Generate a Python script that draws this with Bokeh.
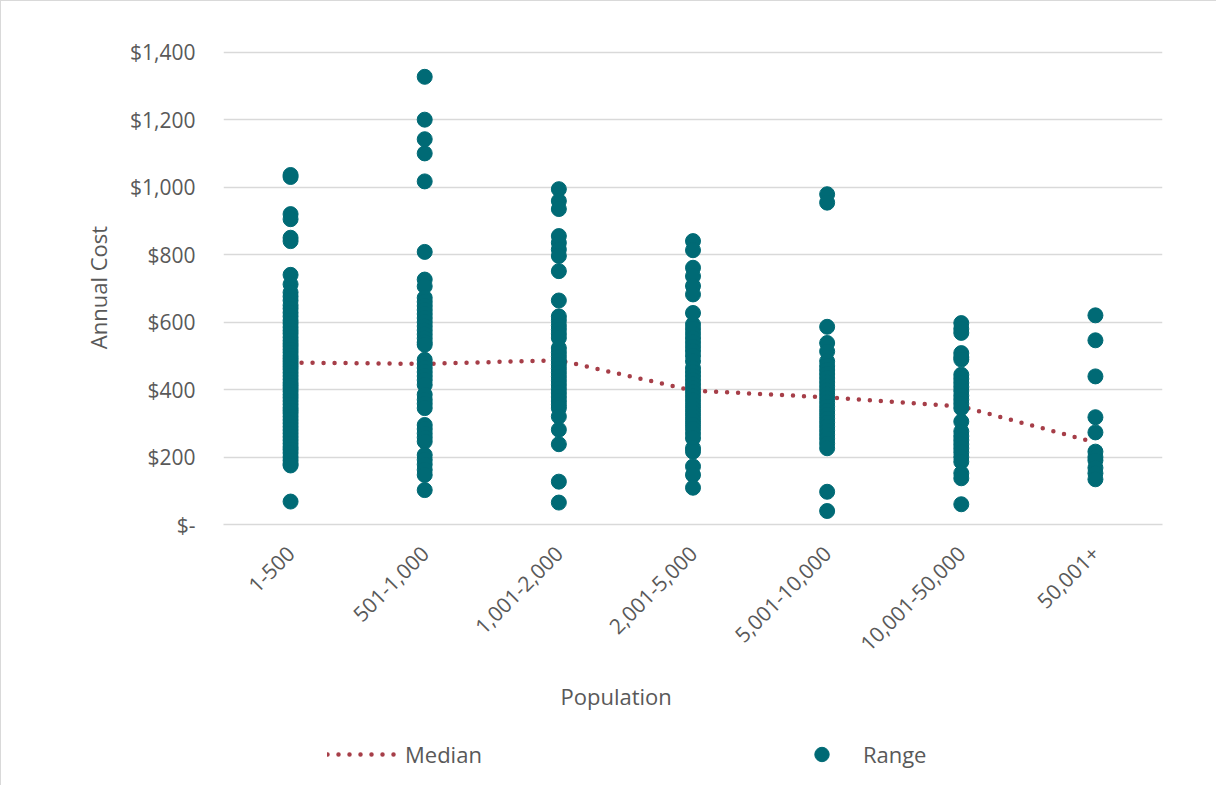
import math
from bokeh.plotting import figure
from bokeh.layouts import column
from bokeh.models import (FactorRange, Range1d, FixedTicker, Legend, LegendItem, Title)
from bokeh.embed import file_html
from bokeh.resources import INLINE

# ---------------- data ----------------
categories = ["1-500", "501-1,000", "1,001-2,000", "2,001-5,000",
              "5,001-10,000", "10,001-50,000", "50,001+"]

median_cost = [480, 476, 487, 397, 377, 350, 243]

range_1_500 = [1036, 1030, 920, 905, 850, 840, 740, 712, 688, 676, 664, 650, 640,
               628, 617, 605, 596, 585, 575, 566, 555, 545, 536, 528, 519, 510,
               500, 492, 484, 476, 468, 460, 450, 440, 430, 420, 412, 404, 395,
               385, 376, 366, 356, 346, 338, 330, 320, 310, 300, 290, 280, 270,
               260, 250, 240, 230, 222, 212, 200, 190, 180, 175, 68]
range_501_1000 = [1327, 1200, 1142, 1100, 1017, 808, 726, 706, 672, 660, 648, 636,
                  624, 612, 600, 588, 576, 564, 552, 540, 533, 488, 476, 464, 452,
                  440, 428, 414, 385, 370, 358, 345, 295, 283, 270, 258, 246, 206,
                  192, 178, 162, 147, 102]
range_1001_2000 = [994, 959, 935, 855, 835, 815, 796, 751, 664, 617, 605, 590, 578,
                   565, 553, 523, 510, 498, 486, 474, 462, 450, 438, 426, 414, 402,
                   390, 378, 366, 355, 345, 320, 281, 238, 127, 65]
range_2001_5000 = [840, 813, 761, 736, 707, 682, 627, 593, 580, 566, 553, 540, 527,
                   514, 500, 484, 464, 452, 440, 428, 416, 404, 392, 380, 368, 356,
                   344, 332, 320, 308, 296, 284, 270, 256, 226, 216, 172, 147, 109]
range_5001_10000 = [979, 954, 586, 538, 513, 484, 470, 458, 446, 434, 422, 410, 398,
                    386, 374, 362, 350, 338, 326, 314, 302, 290, 278, 266, 254, 240,
                    226, 97, 40]
range_10001_50000 = [597, 580, 568, 508, 496, 489, 444, 432, 420, 408, 396, 382, 370,
                     358, 345, 305, 276, 262, 250, 238, 226, 214, 200, 186, 152, 137, 60]
range_50001_plus = [620, 546, 439, 318, 273, 216, 200, 190, 168, 152, 134]

y_ticks = [0, 200, 400, 600, 800, 1000, 1200, 1400]
y_tick_labels = ["$-", "$200", "$400", "$600", "$800", "$1,000", "$1,200", "$1,400"]

range_groups = [range_1_500, range_501_1000, range_1001_2000, range_2001_5000,
                range_5001_10000, range_10001_50000, range_50001_plus]
scatter_x = [c for c, vals in zip(categories, range_groups) for _ in vals]
scatter_y = [v for vals in range_groups for v in vals]

# ---------------- styles ----------------
FONT = "Open Sans"
TXT = "#595959"
GRID = "#d9d9d9"
TEAL = "#006a75"
RED = "#a63e48"
W = 1216

p = figure(width=W, height=727, output_backend="svg", toolbar_location=None,
           x_range=FactorRange(factors=categories, range_padding=0),
           y_range=Range1d(0, 1405),
           min_border_left=222, min_border_right=55, min_border_top=49,
           min_border_bottom=204)
p.outline_line_color = None
p.background_fill_color = "white"
p.border_fill_color = "white"
p.styles = {"border-left": "1px solid #d9d9d9", "border-top": "1px solid #d9d9d9"}

median_style = dict(line_color=RED, line_width=4.5, line_dash="0 11",
                    line_cap="round")
range_style = dict(size=15, marker="circle", fill_color=TEAL, line_color=TEAL)

p.line(categories, median_cost, **median_style)
p.scatter(scatter_x, scatter_y, **range_style)

# y axis
p.yaxis.ticker = FixedTicker(ticks=y_ticks)
p.yaxis.major_label_overrides = {t: l for t, l in zip(y_ticks, y_tick_labels)}
p.yaxis.axis_label = "Annual Cost"
p.yaxis.axis_line_color = None
p.yaxis.major_tick_line_color = None
p.yaxis.minor_tick_line_color = None
p.yaxis.major_label_standoff = 22
p.yaxis.axis_label_standoff = 14
p.yaxis.major_label_text_font = FONT
p.yaxis.major_label_text_font_size = "21px"
p.yaxis.major_label_text_color = TXT
p.yaxis.axis_label_text_font = FONT
p.yaxis.axis_label_text_font_size = "22px"
p.yaxis.axis_label_text_font_style = "normal"
p.yaxis.axis_label_text_color = TXT

# x axis
p.xaxis.axis_line_color = GRID
p.xaxis.axis_line_width = 1.5
p.xaxis.major_tick_line_color = None
p.xaxis.minor_tick_line_color = None
p.xaxis.major_label_orientation = math.pi / 4
p.xaxis.major_label_standoff = 19
p.xaxis.major_label_text_font = FONT
p.xaxis.major_label_text_font_size = "21px"
p.xaxis.major_label_text_color = TXT

p.xgrid.grid_line_color = None
p.ygrid.grid_line_color = GRID
p.ygrid.grid_line_width = 1.5

# x axis title (centred on the chart area, as in the reference)
p.add_layout(Title(text="Population", align="left", offset=337, standoff=35,
                   text_font=FONT, text_font_size="22px", text_color=TXT,
                   text_font_style="normal"), "below")

# ---------------- legend strip ----------------
# same series, plotted out of view, only to feed the legend glyphs
q = figure(width=W, height=58, output_backend="svg", toolbar_location=None,
           x_range=FactorRange(factors=categories, range_padding=0),
           y_range=Range1d(-3000, -2000),
           x_axis_type=None, y_axis_type=None,
           min_border_left=222, min_border_right=55, min_border_top=0,
           min_border_bottom=0)
q.outline_line_color = None
q.grid.visible = False
q.background_fill_color = "white"
q.border_fill_color = "white"
q.styles = {"border-left": "1px solid #d9d9d9"}

leg_median = q.line(categories, median_cost, **median_style)
leg_range = q.scatter(scatter_x, scatter_y, **range_style)

legend = Legend(items=[LegendItem(label="Median", renderers=[leg_median]),
                       LegendItem(label="Range", renderers=[leg_range])],
                orientation="horizontal", location=(104, 13), margin=0,
                padding=0, spacing=303, glyph_width=73, glyph_height=36,
                label_standoff=5, border_line_color=None,
                background_fill_alpha=0,
                label_text_font=FONT, label_text_font_size="22px",
                label_text_color=TXT)
q.add_layout(legend, "center")

layout = column(p, q, spacing=0)
open("out.html", "w").write(file_html(layout, INLINE))
